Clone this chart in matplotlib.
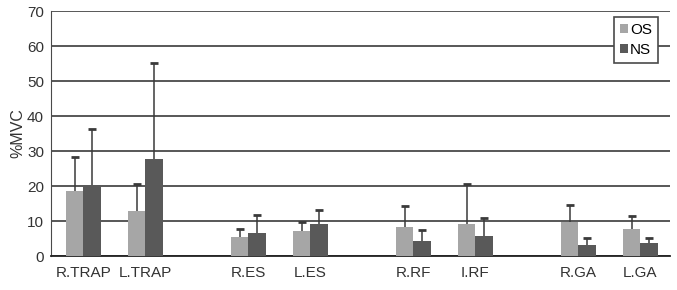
import numpy as np
import matplotlib
matplotlib.use("Agg")
import matplotlib.pyplot as plt

plt.rcParams['font.family'] = ['Liberation Sans', 'DejaVu Sans']

# 数据
muscles = ["R.TRAP", "L.TRAP", "R.ES", "L.ES", "R.RF", "I.RF", "R.GA", "L.GA"]
os_mean = [18.7, 12.9, 5.4, 7.2, 8.4, 9.2, 9.6, 7.6]
os_sd = [9.7, 7.8, 2.4, 2.5, 5.9, 11.3, 5.0, 3.8]
ns_mean = [20.3, 27.7, 6.7, 9.1, 4.4, 5.8, 3.1, 3.6]
ns_sd = [15.9, 27.5, 5.0, 4.2, 3.1, 5.2, 2.1, 1.6]

# 位置：每组两块肌肉，组间留空
group_step = 2.66
x = np.array([(i // 2) * group_step + (i % 2) for i in range(len(muscles))])
w = 0.28

fig = plt.figure(figsize=(6.77, 2.90), dpi=100)
ax = fig.add_axes([0.0753, 0.117, 0.9144, 0.845])

ax.bar(x - w / 2, os_mean, w, color='#a6a6a6', label='OS', zorder=3)
ax.bar(x + w / 2, ns_mean, w, color='#595959', label='NS', zorder=3)

# 只画向上的误差线（带顶端横线）
err_color = '#3a3a3a'
for xs, m, sd in [(x - w / 2, os_mean, os_sd), (x + w / 2, ns_mean, ns_sd)]:
    tops = np.array(m) + np.array(sd)
    ax.vlines(xs, m, tops, color=err_color, linewidth=1.1, zorder=4)
    ax.plot(xs, tops, linestyle='none', marker='_', markersize=6,
            markeredgewidth=2, color=err_color, zorder=4)

ax.set_ylim(0, 70)
ax.set_yticks(range(0, 71, 10))
ax.set_xlim(x[0] - 0.52, x[-1] + 0.48)
ax.set_xticks(x)
ax.set_xticklabels(muscles)

ax.yaxis.grid(True, color='#4a4a4a', linewidth=1.3, zorder=0)
ax.set_axisbelow(True)
for s in ['top', 'right']:
    ax.spines[s].set_visible(False)
ax.spines['left'].set_color('#4a4a4a')
ax.spines['bottom'].set_color('#222222')
ax.spines['bottom'].set_linewidth(1.3)

ax.tick_params(axis='both', length=0, labelsize=11, colors='#333333')
ax.tick_params(axis='x', pad=7)
ax.tick_params(axis='y', pad=5)
ax.set_ylabel("%MVC", fontsize=11.5, color='#333333', labelpad=1)

leg = ax.legend(loc='upper right', bbox_to_anchor=(0.981, 0.975), fontsize=11,
                handlelength=0.5, handleheight=0.5, handletextpad=0.15,
                borderpad=0.4, labelspacing=0.35, borderaxespad=0.0,
                fancybox=False, framealpha=1)
leg.get_frame().set_edgecolor('#4a4a4a')
leg.get_frame().set_linewidth(1.2)

fig.savefig("out.png", dpi=100)
